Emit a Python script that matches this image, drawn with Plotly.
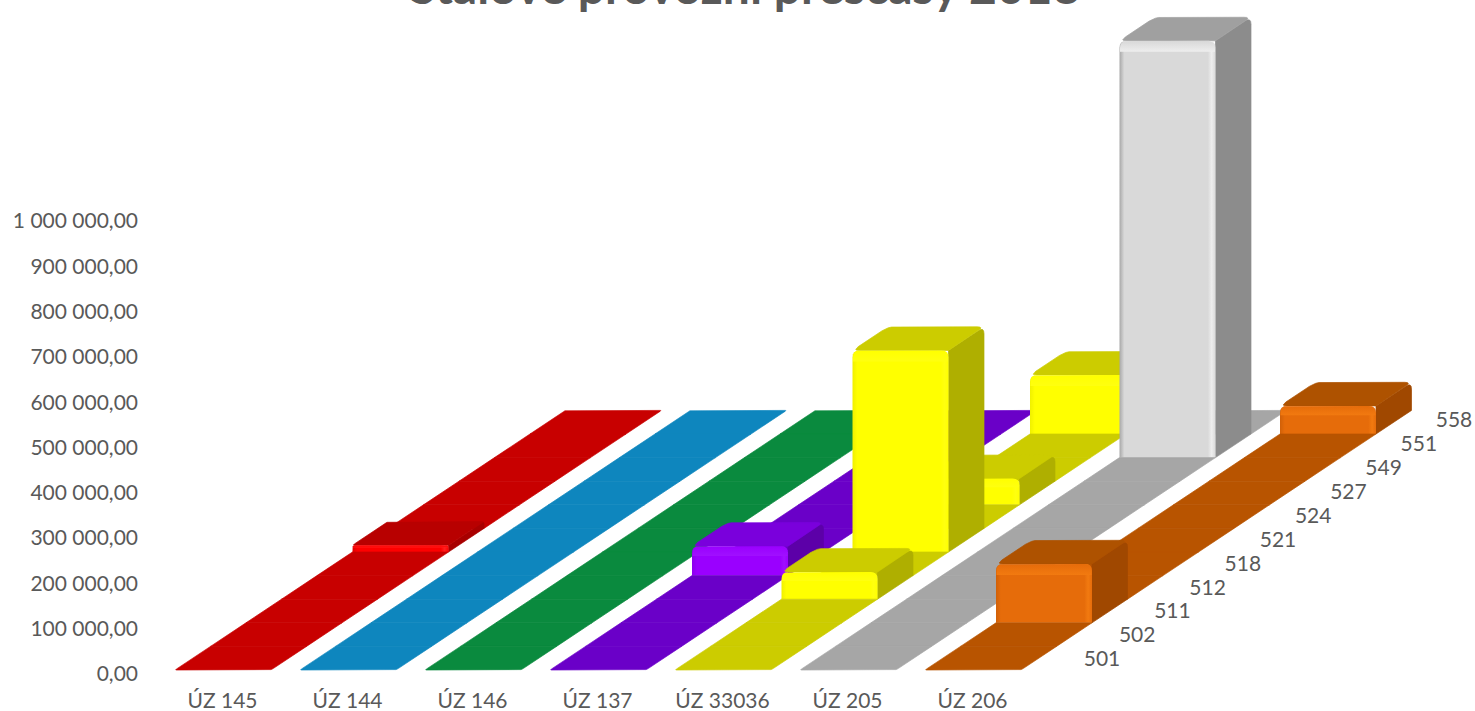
import numpy as np
import plotly.graph_objects as go

# ---------- data ----------
categories = ["501", "502", "511", "512", "518", "521", "524", "527", "549", "551", "558"]
series_names = ["ÚZ 145", "ÚZ 144", "ÚZ 146", "ÚZ 137", "ÚZ 33036", "ÚZ 205", "ÚZ 206"]
uz145 = [0, 0, 0, 0, 0, 15000, 0, 0, 0, 0, 0]
uz144 = [0, 0, 0, 0, 0, 0, 0, 0, 0, 0, 0]
uz146 = [0, 0, 0, 0, 0, 0, 0, 0, 0, 0, 0]
uz137 = [0, 0, 0, 0, 65000, 0, 0, 0, 0, 0, 0]
uz33036 = [0, 0, 0, 60000, 0, 445000, 0, 58000, 0, 0, 130000]
uz205 = [0, 0, 0, 0, 0, 0, 0, 0, 0, 920000, 0]
uz206 = [0, 0, 130000, 0, 0, 0, 0, 0, 0, 0, 62000]
values = [uz145, uz144, uz146, uz137, uz33036, uz205, uz206]
value_ticks = [i * 100000 for i in range(11)]
title_text = "Stálové provozní přesčasy 2018"

# ---------- styles: floor / front / side / top / edge highlight ----------
styles = [
    dict(floor="#C80000", front="#FF0000", side="#A80000", top="#B80000", hi="#FF2020", lo="#E00000"),
    dict(floor="#0E86BE", front="#12A0E0", side="#0A6A96", top="#0E86BE", hi="#30B0F0", lo="#1090C8"),
    dict(floor="#0A8A3E", front="#0CA84C", side="#086C30", top="#0A8A3E", hi="#20C060", lo="#0A9644"),
    dict(floor="#6A00C8", front="#9A00FF", side="#5C00A8", top="#7A00DC", hi="#A010FF", lo="#8C00EC"),
    dict(floor="#CCCC00", front="#FFFF00", side="#AFAF00", top="#CCCC00", hi="#FFFF10", lo="#F0F000"),
    dict(floor="#A6A6A6", front="#D9D9D9", side="#8C8C8C", top="#A0A0A0", hi="#EEEEEE", lo="#A8A8A8"),
    dict(floor="#B85400", front="#E66C0A", side="#A04800", top="#AE5200", hi="#F27A10", lo="#D06008"),
]

# ---------- page geometry (pixels) ----------
W_PAGE, H_PAGE = 1475, 711
LEFT, BOTTOM_PX = 142, 682
X0_PX, X_STEP = 175, 125      # left edge of first series, spacing of series
Y0_PX, Y_1M_PX = 674, 221     # pixel rows of value 0 and of 1 000 000
PX_PER_VAL = (Y0_PX - Y_1M_PX) / 1e6
BAR_W = 96                    # bar width
DX, DY = 35.5, 23.6           # oblique depth step
FLOOR_UP = 4                  # floor sits a little above the 0 tick row


def to_data(i, d, px, py):
    """Series i, depth d, pixel offset (px right, py up from floor) -> axis values."""
    x = i + (d * DX + px) / X_STEP
    y = (d * DY + py + FLOOR_UP) / PX_PER_VAL
    return x, y


def rounded(pts, radii, n=5):
    out = []
    m = len(pts)
    for k in range(m):
        p = np.array(pts[k], float)
        a = np.array(pts[k - 1], float)
        b = np.array(pts[(k + 1) % m], float)
        r = radii[k]
        if r <= 0:
            out.append(tuple(p))
            continue
        u = (a - p) / np.linalg.norm(a - p)
        v = (b - p) / np.linalg.norm(b - p)
        s, e = p + u * r, p + v * r
        for t in np.linspace(0, 1, n):
            out.append(tuple((1 - t) ** 2 * s + 2 * t * (1 - t) * p + t ** 2 * e))
    return out


fig = go.Figure()


def face(i, d, pts, color, grad=None):
    xs, ys = zip(*[to_data(i, d, px, py) for px, py in pts])
    xs = list(xs) + [xs[0]]
    ys = list(ys) + [ys[0]]
    kw = dict(x=xs, y=ys, mode="lines", fill="toself", hoverinfo="skip", showlegend=False)
    if grad:
        kw["fillgradient"] = grad
        kw["line"] = dict(width=0, color=color)
    else:
        kw["fillcolor"] = color
        kw["line"] = dict(width=0.7, color=color)
    fig.add_trace(go.Scatter(**kw))


def draw_bar(i, d, v, st):
    h = v * PX_PER_VAL
    if v == 0:
        pts = [(0, 0), (BAR_W, 0), (BAR_W + DX, DY), (DX, DY)]
        rad = [1.5 if d == 0 else 0, 3 if d == 0 else 0, 0, 0]
        if d == len(categories) - 1:
            rad[2] = rad[3] = 1.5
        face(i, d, rounded(pts, rad), st["floor"])
        return
    r = min(7, h / 3)
    # right face
    face(i, d, rounded([(BAR_W, 0), (BAR_W + DX, DY), (BAR_W + DX, DY + h), (BAR_W, h)], [0, 0, r, 0]), st["side"])
    # top face
    face(i, d, rounded([(0, h), (BAR_W, h), (BAR_W + DX, h + DY), (DX, h + DY)], [r, 0, r, r]), st["top"])
    # front face: rounded top, side gradient
    front = rounded([(0, 0), (BAR_W, 0), (BAR_W, h), (0, h)], [0, 0, r, r])
    scale = [[0, st["lo"]], [0.05, st["front"]], [0.92, st["front"]], [0.96, st["hi"]], [1, st["front"]]]
    face(i, d, front, st["front"], grad=dict(type="horizontal", colorscale=scale))
    # soft light top bevel
    bev = min(11, h / 3)
    strip = rounded([(0.5, h - bev), (BAR_W - 0.5, h - bev), (BAR_W - 0.5, h - 0.5), (0.5, h - 0.5)],
                    [0, 0, r * 0.9, r * 0.9])
    face(i, d, strip, st["front"],
         grad=dict(type="vertical", colorscale=[[0, st["hi"]], [1, st["front"]]]))


# painter's order: back to front, left to right
for d in range(len(categories) - 1, -1, -1):
    for i in range(len(values)):
        draw_bar(i, d, values[i][d], styles[i])

# depth-axis labels follow the right-hand edge of the floor
lab_x, lab_y = [], []
for d in range(len(categories)):
    x, y = to_data(len(values) - 1, d, 177 - 0.3 * d, 9 + 0.3 * d)
    lab_x.append(x)
    lab_y.append(y)
fig.add_trace(go.Scatter(x=lab_x, y=lab_y, mode="text", text=categories, textposition="middle center",
                         textfont=dict(family="Lato", size=21, color="#595959"),
                         hoverinfo="skip", showlegend=False, cliponaxis=False))

fig.update_layout(
    width=W_PAGE, height=H_PAGE,
    autosize=False,
    margin=dict(l=LEFT, r=0, t=0, b=H_PAGE - BOTTOM_PX, autoexpand=False),
    paper_bgcolor="white", plot_bgcolor="white",
    separators=", ",
    title=dict(text=title_text, font=dict(family="Lato", size=48, color="#595959", weight="bold"),
               x=745 / W_PAGE, xanchor="center", y=1.0 - 4 / H_PAGE, yanchor="bottom", yref="container"),
    xaxis=dict(range=[(LEFT - X0_PX) / X_STEP, (W_PAGE - X0_PX) / X_STEP],
               tickmode="array", tickvals=[i + 0.38 for i in range(len(series_names))], ticktext=series_names,
               showgrid=False, zeroline=False, showline=False, ticks="",
               ticklabelstandoff=4,
               tickfont=dict(family="Lato", size=21, color="#595959"), fixedrange=True),
    yaxis=dict(range=[(Y0_PX - BOTTOM_PX) / PX_PER_VAL, Y0_PX / PX_PER_VAL],
               tickmode="array", tickvals=value_ticks, tickformat=",.2f",
               showgrid=False, zeroline=False, showline=False, ticks="",
               ticklabelstandoff=3,
               tickfont=dict(family="Lato", size=21, color="#595959"), fixedrange=True),
)
fig.write_html("out.html", config=dict(displayModeBar=False),
               post_script="document.body.style.margin='0';document.documentElement.style.overflow='hidden';")
